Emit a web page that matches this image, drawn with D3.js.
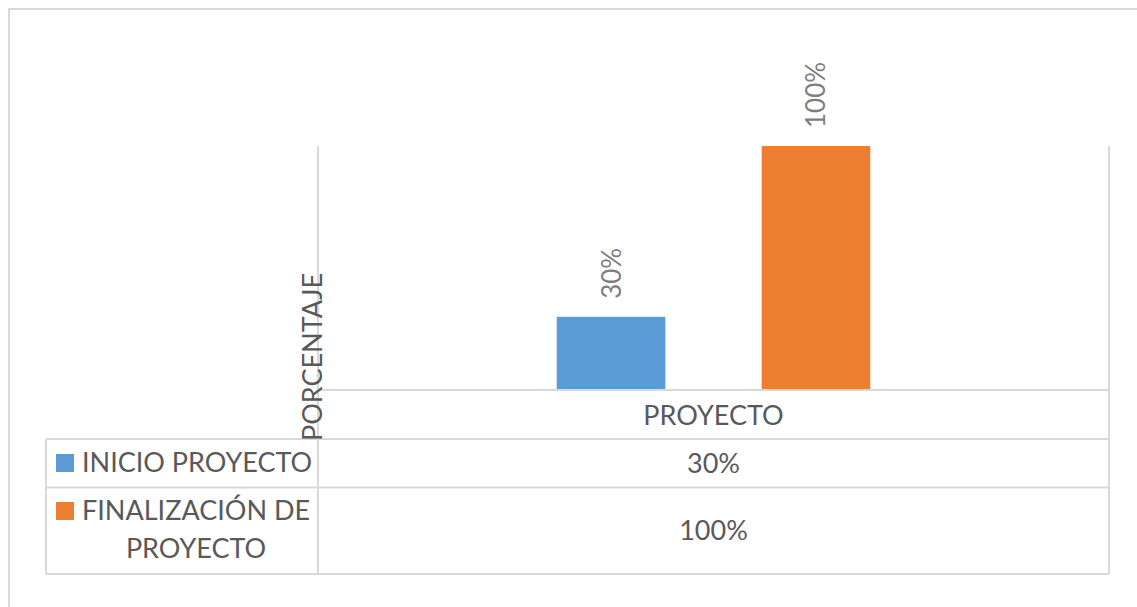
<!DOCTYPE html>
<html>
<head>
<meta charset="utf-8">
<script src="https://cdn.jsdelivr.net/npm/d3@7"></script>
<style>
  html, body { margin: 0; padding: 0; background: #fff; }
  svg { display: block; }
  text { font-family: Lato, "Open Sans", sans-serif; }
</style>
</head>
<body>
<svg id="chart" width="1137" height="607"></svg>
<script>
// Chart data
const categories = ["PROYECTO"];
const seriesNames = ["INICIO PROYECTO", "FINALIZACIÓN DE PROYECTO"];
const seriesValues = [0.30, 1.00];
const seriesColors = ["#5b9bd5", "#ed7d31"];
const yAxisTitle = "PORCENTAJE";

const svg = d3.select("#chart");
const W = 1137, H = 607;

const gridColor = "#d9d9d9";
const textColor = "#595959";
const labelColor = "#7f7f7f";
const fontSize = 27;

// Chart frame
svg.append("rect")
  .attr("x", 9).attr("y", 9)
  .attr("width", W + 10).attr("height", H + 10)
  .attr("fill", "#fff")
  .attr("stroke", gridColor).attr("stroke-width", 2);

// Plot geometry
const plot = { left: 318, right: 1109, top: 146, bottom: 390 };
const table = { left: 46, rowTop: [390, 439, 487.5], bottom: 574 };

const x = d3.scaleBand()
  .domain(categories)
  .range([plot.left, plot.right]);

const xSeries = d3.scaleBand()
  .domain(seriesNames)
  .range([0, x.bandwidth()])
  .paddingInner(0.47)
  .paddingOuter(1.165);

const y = d3.scaleLinear()
  .domain([0, 1])
  .range([plot.bottom, plot.top]);

const fmtPct = d3.format(".0%");

// Bars
const bars = svg.append("g");
categories.forEach(cat => {
  seriesNames.forEach((name, i) => {
    const bx = x(cat) + xSeries(name);
    bars.append("rect")
      .attr("x", bx)
      .attr("y", y(seriesValues[i]))
      .attr("width", xSeries.bandwidth())
      .attr("height", y(0) - y(seriesValues[i]))
      .attr("fill", seriesColors[i]);

    // Rotated value label above each bar
    const cx = bx + xSeries.bandwidth() / 2;
    const ty = y(seriesValues[i]) - 18;
    bars.append("text")
      .attr("transform", `translate(${cx + 9.5},${ty}) rotate(-90)`)
      .attr("fill", labelColor)
      .attr("font-size", fontSize - 1)
      .attr("text-anchor", "start")
      .text(fmtPct(seriesValues[i]));
  });
});

// Data table grid lines
const lines = svg.append("g")
  .attr("stroke", gridColor)
  .attr("stroke-width", 2)
  .attr("fill", "none");

// Category axis / table header top
lines.append("line")
  .attr("x1", plot.left).attr("x2", plot.right)
  .attr("y1", y(0)).attr("y2", y(0));
// Series row separators
[table.rowTop[1], table.rowTop[2], table.bottom].forEach(yy => {
  lines.append("line")
    .attr("x1", table.left).attr("x2", plot.right)
    .attr("y1", yy).attr("y2", yy);
});
// Verticals
lines.append("line")
  .attr("x1", plot.left).attr("x2", plot.left)
  .attr("y1", y(1)).attr("y2", table.bottom);
lines.append("line")
  .attr("x1", plot.right).attr("x2", plot.right)
  .attr("y1", y(1)).attr("y2", table.bottom);
lines.append("line")
  .attr("x1", table.left).attr("x2", table.left)
  .attr("y1", table.rowTop[1]).attr("y2", table.bottom);

// Category header
categories.forEach(cat => {
  svg.append("text")
    .attr("x", x(cat) + x.bandwidth() / 2)
    .attr("y", 425)
    .attr("text-anchor", "middle")
    .attr("fill", textColor)
    .attr("font-size", fontSize)
    .text(cat);
});

// Y axis title
svg.append("text")
  .attr("transform", `translate(322,357) rotate(-90)`)
  .attr("text-anchor", "middle")
  .attr("fill", textColor)
  .attr("font-size", fontSize)
  .text(yAxisTitle);

// Table rows: legend key + name, and value
const rowBaselines = [[472], [520, 558]];
const valueBaselines = [473, 540];
const nameLines = [["INICIO PROYECTO"], ["FINALIZACIÓN DE", "PROYECTO"]];
seriesNames.forEach((name, i) => {
  const top = table.rowTop[i + 1];
  svg.append("rect")
    .attr("x", 56).attr("y", rowBaselines[i][0] - 18)
    .attr("width", 18).attr("height", 18)
    .attr("fill", seriesColors[i]);

  const first = svg.append("text")
    .attr("x", 82)
    .attr("y", rowBaselines[i][0])
    .attr("fill", textColor)
    .attr("font-size", fontSize)
    .text(nameLines[i][0]);
  const w = first.node().getComputedTextLength();
  for (let k = 1; k < nameLines[i].length; k++) {
    svg.append("text")
      .attr("x", 82 + w / 2)
      .attr("y", rowBaselines[i][k])
      .attr("text-anchor", "middle")
      .attr("fill", textColor)
      .attr("font-size", fontSize)
      .text(nameLines[i][k]);
  }

  svg.append("text")
    .attr("x", x(categories[0]) + x.bandwidth() / 2)
    .attr("y", valueBaselines[i])
    .attr("text-anchor", "middle")
    .attr("fill", textColor)
    .attr("font-size", fontSize)
    .text(fmtPct(seriesValues[i]));
});
</script>
</body>
</html>
